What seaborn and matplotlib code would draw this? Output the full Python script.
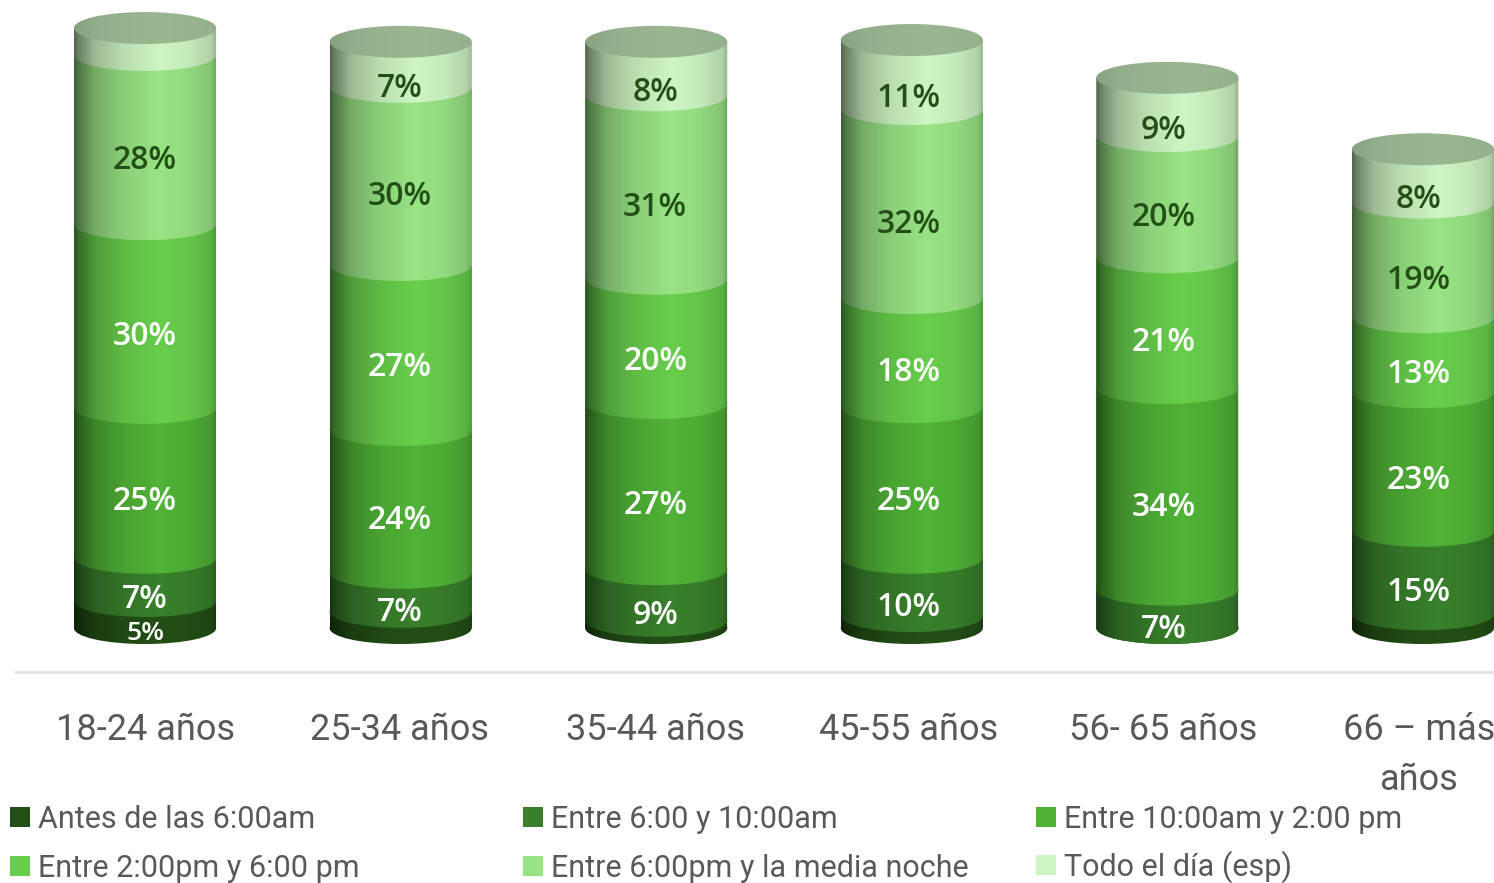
import numpy as np
import matplotlib
matplotlib.use("Agg")
import matplotlib.pyplot as plt
from matplotlib.patches import Ellipse, Patch, PathPatch
from matplotlib.path import Path
from matplotlib.transforms import ScaledTranslation
import seaborn as sns

ages = ["18-24 años", "25-34 años", "35-44 años", "45-55 años", "56- 65 años", "66 – más\naños"]
series_names = ["Antes de las 6:00am", "Entre 6:00 y 10:00am", "Entre 10:00am y 2:00 pm",
                "Entre 2:00pm y 6:00 pm", "Entre 6:00pm y la media noche", "Todo el día (esp)"]
# Segment heights
antes = [4.5, 2.7, 1.2, 2.0, 0.0, 2.3]
manana = [7.2, 6.5, 8.6, 9.7, 6.4, 13.9]
mediodia = [25.0, 23.8, 27.7, 25.1, 33.6, 23.1]
tarde = [30.6, 27.5, 20.7, 18.2, 21.8, 12.5]
noche = [28.2, 29.7, 30.6, 31.5, 20.2, 19.1]
todo = [4.5, 7.5, 8.9, 11.5, 9.7, 8.9]
# Percentages printed on the segments (None: nothing printed)
antes_pct = [5, None, None, None, None, None]
manana_pct = [7, 7, 9, 10, 7, 15]
mediodia_pct = [25, 24, 27, 25, 34, 23]
tarde_pct = [30, 27, 20, 18, 21, 13]
noche_pct = [28, 30, 31, 32, 20, 19]
todo_pct = [None, 7, 8, 11, 9, 8]

series = [antes, manana, mediodia, tarde, noche, todo]
series_pct = [antes_pct, manana_pct, mediodia_pct, tarde_pct, noche_pct, todo_pct]
colors = ["#234F16", "#38802B", "#50B236", "#67CE4B", "#98E384", "#CDF4C2"]
text_colors = ["white", "white", "white", "white", "#234F16", "#234F16"]
label_lift = [-0.5, -0.7, -0.5, -0.7, -0.8, -1.3]
label_dx = [0, -1, -1, -3, -4, -4]
GREY = "#595959"

sns.set_style("white")
plt.rcParams["font.family"] = ["Roboto", "DejaVu Sans"]

W, H = 1494, 883
fig = plt.figure(figsize=(W / 100, H / 100), dpi=100)
ax = fig.add_axes([16 / W, (H - 672) / H, (W - 16) / W, 672 / H])

BAR_W = 0.556
ELL_H = 5.33
bottoms = np.zeros(len(ages))
zo = 2
for idx, (vals, pct, col) in enumerate(zip(series, series_pct, colors)):
    vals = np.array(vals, dtype=float)
    sns.barplot(x=ages, y=vals, bottom=bottoms, color=col, saturation=1, width=BAR_W,
                linewidth=0, ax=ax, order=ages, zorder=zo)
    for i, b in enumerate(bottoms):
        ax.add_patch(Ellipse((i, b), BAR_W, ELL_H, fc=col, ec="none", zorder=zo))
        if pct[i] is not None:
            small = vals[i] <= 5
            ax.text(i, b + vals[i] / 2 - 2.67 + label_lift[idx], f"{pct[i]}%",
                    ha="center", va="center", color=text_colors[idx], weight=600,
                    family=["Open Sans", "DejaVu Sans"],
                    transform=ax.transData + ScaledTranslation(label_dx[i] / 100, 0, fig.dpi_scale_trans),
                    fontsize=19 if small else 23, zorder=20)
    bottoms = bottoms + vals
    zo += 1

# Horizontal cylinder shading, clipped to each cylinder
u = np.linspace(0, 1, 256)
stops_u = [0, 0.03, 0.15, 0.35, 0.60, 0.80, 0.96, 1]
stops_d = [0.60, 0.48, 0.24, 0.09, 0.0, 0.04, 0.14, 0.28]
dark = np.interp(u, stops_u, stops_d)
rgba = np.zeros((1, 256, 4))
rgba[..., 3] = dark
lid_rgba = rgba.copy()
lid_rgba[..., 3] = dark * 0.22
theta = np.linspace(np.pi, 2 * np.pi, 60)
for i, top in enumerate(bottoms):
    xs = np.r_[i - BAR_W / 2, i + BAR_W / 2 * np.cos(theta), i + BAR_W / 2]
    ys = np.r_[top, ELL_H / 2 * np.sin(theta), top]
    outline = PathPatch(Path(np.c_[xs, ys]), fc="none", ec="none", transform=ax.transData)
    ax.add_patch(outline)
    im = ax.imshow(rgba, extent=(i - BAR_W / 2, i + BAR_W / 2, -ELL_H, top), aspect="auto",
                   zorder=10, interpolation="bilinear")
    im.set_clip_path(outline)
    lid = Ellipse((i, top), BAR_W, ELL_H, fc="#9AB691", ec="none", zorder=11)
    ax.add_patch(lid)
    im2 = ax.imshow(lid_rgba, extent=(i - BAR_W / 2, i + BAR_W / 2, top - ELL_H, top + ELL_H),
                    aspect="auto", zorder=12, interpolation="bilinear")
    im2.set_clip_path(lid)

ax.set_xlim(-0.505, 5.278)
ax.set_ylim(-7.33, 104.67)
ax.set_yticks([])
ax.set_ylabel("")
ax.set_xlabel("")
for s in ("top", "left", "right"):
    ax.spines[s].set_visible(False)
ax.spines["bottom"].set_color("#E3E3E3")
ax.spines["bottom"].set_linewidth(2.2)
ax.tick_params(axis="x", length=0, pad=29, labelsize=26, labelcolor=GREY)
for lab, dx in zip(ax.get_xticklabels(), label_dx):
    lab.set_linespacing(1.5)
    lab.set_transform(lab.get_transform() + ScaledTranslation(dx / 100, 0, fig.dpi_scale_trans))

# Legend: one block per entry, so that rows align whatever the glyph heights
col_x = [10, 523, 1036]
row_y = [834, 883]
for k, name in enumerate(series_names):
    fig.legend(handles=[Patch(fc=colors[k], ec="none", label=name)], loc="lower left",
               bbox_to_anchor=(col_x[k % 3] / W, (H - row_y[k // 3]) / H),
               frameon=False, fontsize=22, labelcolor=GREY, handlelength=0.65, handleheight=0.65,
               handletextpad=0.27, borderpad=0, borderaxespad=0)

fig.savefig("out.png", dpi=100)
